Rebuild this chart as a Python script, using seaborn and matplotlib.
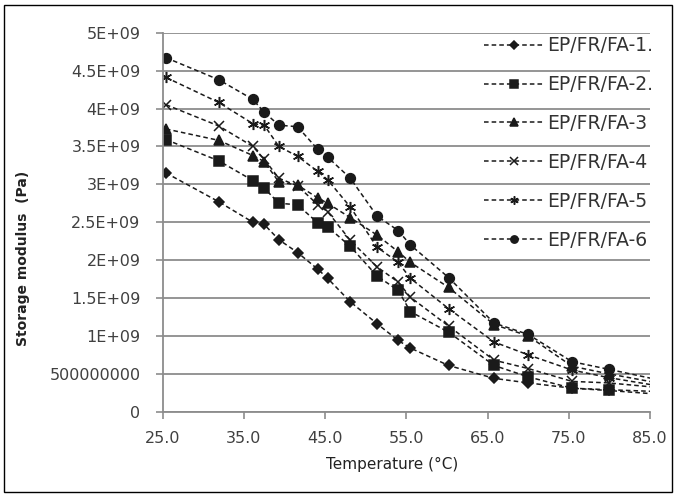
import numpy as np
import pandas as pd
import matplotlib
matplotlib.use("Agg")
import matplotlib.pyplot as plt
import seaborn as sns
from matplotlib.patches import Rectangle

# values (storage modulus in units of 1E+09 Pa)
temperature = [25.4, 31.9, 36.1, 37.5, 39.3, 41.6, 44.1, 45.3, 48.1, 51.4,
               54.0, 55.5, 60.2, 65.8, 70.0, 75.4, 79.9, 90.0]
fa1 = [3.15, 2.77, 2.50, 2.47, 2.27, 2.10, 1.88, 1.76, 1.45, 1.16,
       0.94, 0.84, 0.61, 0.44, 0.38, 0.31, 0.28, 0.20]
fa2 = [3.59, 3.31, 3.05, 2.95, 2.75, 2.73, 2.49, 2.44, 2.18, 1.79,
       1.60, 1.32, 1.05, 0.61, 0.46, 0.31, 0.29, 0.25]
fa3 = [3.73, 3.58, 3.38, 3.30, 3.03, 2.99, 2.82, 2.75, 2.56, 2.33,
       2.11, 1.97, 1.64, 1.15, 1.00, 0.60, 0.50, 0.30]
fa4 = [4.05, 3.77, 3.50, 3.33, 3.08, 2.98, 2.73, 2.64, 2.26, 1.91,
       1.71, 1.51, 1.13, 0.68, 0.57, 0.40, 0.38, 0.28]
fa5 = [4.41, 4.08, 3.80, 3.78, 3.50, 3.37, 3.17, 3.06, 2.70, 2.17,
       1.97, 1.76, 1.36, 0.92, 0.75, 0.55, 0.45, 0.27]
fa6 = [4.67, 4.38, 4.12, 3.95, 3.78, 3.76, 3.46, 3.36, 3.08, 2.58,
       2.39, 2.20, 1.77, 1.17, 1.02, 0.66, 0.56, 0.33]

labels = ["EP/FR/FA-1.", "EP/FR/FA-2.", "EP/FR/FA-3",
          "EP/FR/FA-4", "EP/FR/FA-5", "EP/FR/FA-6"]
x_ticks = [25, 35, 45, 55, 65, 75, 85]
x_tick_labels = ["25.0", "35.0", "45.0", "55.0", "65.0", "75.0", "85.0"]
y_ticks = [0, 0.5e9, 1e9, 1.5e9, 2e9, 2.5e9, 3e9, 3.5e9, 4e9, 4.5e9, 5e9]
y_tick_labels = ["0", "500000000", "1E+09", "1.5E+09", "2E+09", "2.5E+09",
                 "3E+09", "3.5E+09", "4E+09", "4.5E+09", "5E+09"]

series = [fa1, fa2, fa3, fa4, fa5, fa6]
rows = []
for lab, vals in zip(labels, series):
    for t, v in zip(temperature, vals):
        rows.append({"T": t, "E": v * 1e9, "series": lab})
df = pd.DataFrame(rows)

markers = ["D", "s", "^", "x", (6, 2, 0), "o"]
sizes = [5.5, 7, 7, 7, 8, 7]
ink = "#1a1a1a"
grey = "#8c8c8c"

sns.set_style("white")
fig = plt.figure(figsize=(6.76, 4.97), dpi=100)
ax = fig.add_axes([0.2407, 0.1716, 0.7208, 0.7626])

sns.lineplot(data=df, x="T", y="E", style="series", markers=["o"] * 6,
             dashes=[(3, 2)] * 6, color=ink, sort=False, estimator=None,
             linewidth=1.1, markeredgecolor=ink, markeredgewidth=1.1,
             legend=False, ax=ax)
for line, mk, ms in zip(ax.lines, markers, sizes):
    line.set_marker(mk)
    line.set_markersize(ms)
    line.set_markerfacecolor(ink)
    line.set_markeredgecolor(ink)

ax.set_xlim(25, 85)
ax.set_ylim(0, 5e9)
ax.set_xticks(x_ticks, labels=x_tick_labels)
ax.set_yticks(y_ticks, labels=y_tick_labels)
ax.yaxis.grid(True, color=grey, lw=1.3)
ax.xaxis.grid(False)
ax.set_axisbelow(True)
for side in ["top", "right"]:
    ax.spines[side].set_visible(False)
for side in ["left", "bottom"]:
    ax.spines[side].set_color(grey)
    ax.spines[side].set_linewidth(1.3)
ax.tick_params(axis="both", bottom=True, left=True, direction="out", length=5,
               width=1.2, color=grey, labelsize=11.5, labelcolor="#404040")
ax.tick_params(axis="x", pad=9)
ax.tick_params(axis="y", pad=11)

ax.set_xlabel("Temperature (°C)", fontsize=11, color="#222222")
ax.xaxis.set_label_coords(0.47, -0.12)
ax.set_ylabel("Storage modulus  (Pa)", fontsize=10, fontweight="bold",
              color="#222222")
ax.yaxis.set_label_coords(-0.272, 0.405)

ax.legend(ax.lines, labels, loc="upper right", bbox_to_anchor=(0.966, 0.927),
          bbox_transform=fig.transFigure, frameon=False, fontsize=13.5,
          numpoints=1, handlelength=3.2, handletextpad=0.15,
          labelspacing=1.06, markerscale=0.75, borderpad=0,
          borderaxespad=0, labelcolor="#333333")

fig.patches.append(Rectangle((0.006, 0.01), 0.988, 0.98,
                             transform=fig.transFigure, fill=False,
                             ec="black", lw=1))

fig.savefig("out.png", dpi=100)
